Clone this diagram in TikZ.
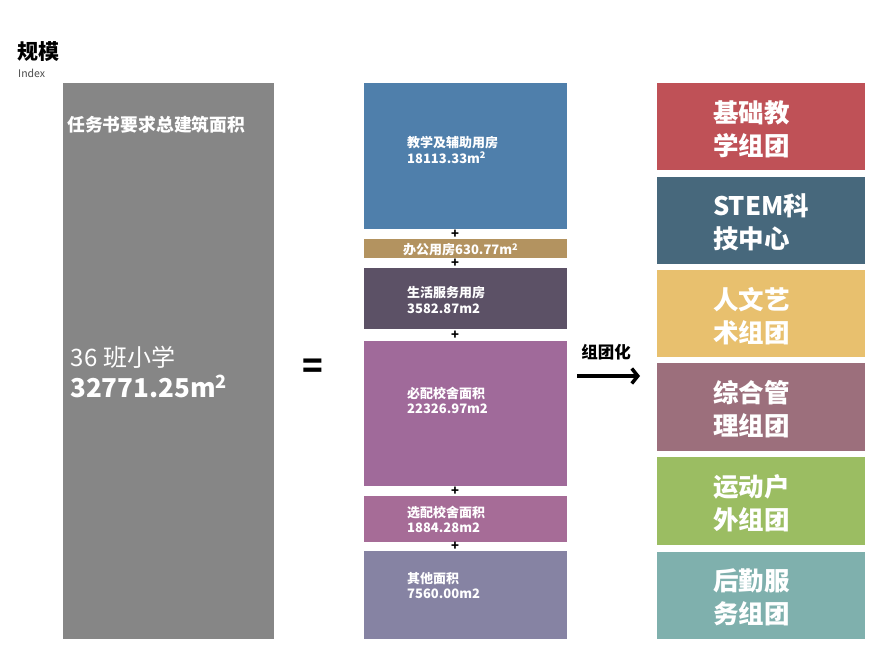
\documentclass[tikz,border=0pt]{standalone}
\usepackage{fontspec}
\setmainfont{Noto Sans CJK SC}
\usetikzlibrary{arrows.meta}

\definecolor{totalgray}{HTML}{868686}
\definecolor{teachblue}{HTML}{4F7FAB}
\definecolor{officegold}{HTML}{B39360}
\definecolor{livingpurple}{HTML}{5C5166}
\definecolor{requiredmagenta}{HTML}{A06A9A}
\definecolor{optionalpink}{HTML}{A66C97}
\definecolor{otherlilac}{HTML}{8683A3}
\definecolor{basicred}{HTML}{BF5157}
\definecolor{stemteal}{HTML}{47687C}
\definecolor{artyellow}{HTML}{E8C06E}
\definecolor{adminmauve}{HTML}{9C6F7C}
\definecolor{sportgreen}{HTML}{9BBD62}
\definecolor{servicecyan}{HTML}{7FB0AD}

\begin{document}
\begin{tikzpicture}[x=1pt,y=-1pt,
	area/.style={rectangle, inner sep=0pt, minimum width=203pt},
	cluster/.style={rectangle, inner sep=0pt, minimum width=208pt, minimum height=87pt},
	areatext/.style={anchor=west, align=left, inner sep=0pt, text=white, font=\bfseries\fontsize{13}{15.5}\selectfont},
	clustertext/.style={anchor=west, align=left, inner sep=0pt, text=white, font=\bfseries\fontsize{25.5}{33}\selectfont},
	plus/.style={inner sep=0pt, font=\bfseries\fontsize{13}{13}\selectfont}]
	\useasboundingbox[fill=white] (0,0) rectangle (880,657);

	\node[anchor=west, inner sep=0pt, font=\bfseries\fontsize{21}{21}\selectfont] (title) at (17,52) {规模};
	\node[anchor=west, inner sep=0pt, text=black!70, font=\fontsize{10.5}{10.5}\selectfont] (subtitle) at (18,73) {Index};

	\node[rectangle, inner sep=0pt, fill=totalgray, minimum width=211pt, minimum height=556pt] (total) at (168.5,361) {};
	\node[anchor=west, inner sep=0pt, text=white, font=\bfseries\fontsize{17.8}{17.8}\selectfont] (totaltitle) at (67,125) {任务书要求总建筑面积};
	\node[anchor=west, align=left, inner sep=0pt, text=white, font=\fontsize{24}{31}\selectfont] (totalvalue) at (70,372) {{\addfontfeatures{LetterSpace=6}36} 班小学\\{\bfseries\fontsize{26}{31}\selectfont 32771.25m\textsuperscript{2}}};

	\node[inner sep=0pt, font=\bfseries\fontsize{34}{34}\selectfont] (equals) at (313,369) {=};

	\node[area, fill=teachblue, minimum height=146pt] (teaching) at (465.5,156) {};
	\node[area, fill=officegold, minimum height=19pt] (office) at (465.5,248.5) {};
	\node[area, fill=livingpurple, minimum height=61pt] (living) at (465.5,298.5) {};
	\node[area, fill=requiredmagenta, minimum height=145pt] (required) at (465.5,413.5) {};
	\node[area, fill=optionalpink, minimum height=46pt] (optional) at (465.5,519) {};
	\node[area, fill=otherlilac, minimum height=88pt] (other) at (465.5,595) {};

	\node[areatext] (teachingtext) at (407,150) {教学及辅助用房\\18113.33m\textsuperscript{2}};
	\node[areatext] (officetext) at (403,249.5) {办公用房630.77m\textsuperscript{2}};
	\node[areatext] (livingtext) at (407,300) {生活服务用房\\3582.87m2};
	\node[areatext] (requiredtext) at (407,400.5) {必配校舍面积\\22326.97m2};
	\node[areatext] (optionaltext) at (407,519.5) {选配校舍面积\\1884.28m2};
	\node[areatext] (othertext) at (407,585.5) {其他面积\\7560.00m2};

	\node[plus] (plusa) at (455,234) {+};
	\node[plus] (plusb) at (455,263) {+};
	\node[plus] (plusc) at (455,335.5) {+};
	\node[plus] (plusd) at (455,491) {+};
	\node[plus] (pluse) at (455,546.5) {+};

	\node[inner sep=0pt, font=\bfseries\fontsize{16.5}{16.5}\selectfont] (grouping) at (606,352) {组团化};
	\coordinate (arrowstart) at (577,376);
	\coordinate (arrowend) at (640,376);
	\draw[line width=3.5pt, -{Straight Barb[length=6pt 0, width=15pt 0, line width=3.5pt]}] (arrowstart) -- (arrowend);

	\node[cluster, fill=basicred] (basic) at (761,126.5) {};
	\node[cluster, fill=stemteal] (stem) at (761,220.5) {};
	\node[cluster, fill=artyellow] (art) at (761,313.5) {};
	\node[cluster, fill=adminmauve, minimum height=88pt] (admin) at (761,407) {};
	\node[cluster, fill=sportgreen, minimum height=88pt] (sport) at (761,501) {};
	\node[cluster, fill=servicecyan] (service) at (761,595.5) {};

	\node[clustertext] (basictext) at (713,129) {基础教\\学组团};
	\node[clustertext] (stemtext) at (713,222) {STEM科\\技中心};
	\node[clustertext] (arttext) at (713,316) {人文艺\\术组团};
	\node[clustertext] (admintext) at (713,409) {综合管\\理组团};
	\node[clustertext] (sporttext) at (713,503) {运动户\\外组团};
	\node[clustertext] (servicetext) at (713,597) {后勤服\\务组团};
\end{tikzpicture}
\end{document}
